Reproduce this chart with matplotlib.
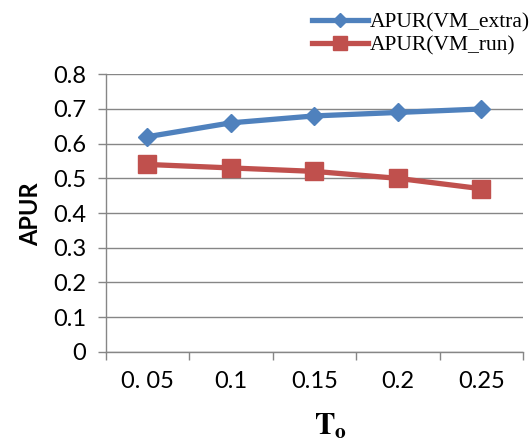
import matplotlib
matplotlib.use('agg')
import matplotlib.pyplot as plt
import numpy as np

# data
categories = ['0. 05', '0.1', '0.15', '0.2', '0.25']
vm_extra = [0.62, 0.66, 0.68, 0.69, 0.70]
vm_run = [0.54, 0.53, 0.52, 0.50, 0.47]

blue = '#4F81BD'
red = '#C0504D'
gray = '#868686'

plt.rcParams['mathtext.fontset'] = 'stix'

fig = plt.figure(figsize=(5.31, 4.46), dpi=100)
ax = fig.add_axes([0.199, 0.2114, 0.786, 0.622])

x = np.arange(len(categories))
l1, = ax.plot(x, vm_extra, color=blue, lw=3.8, marker='D', ms=9, label='APUR(VM_extra)')
l2, = ax.plot(x, vm_run, color=red, lw=3.8, marker='s', ms=13, label='APUR(VM_run)')

ax.set_xlim(-0.5, len(categories) - 0.5)
ax.set_ylim(0, 0.8)
ax.set_yticks(np.arange(0, 0.81, 0.1))
ax.set_yticklabels(['0', '0.1', '0.2', '0.3', '0.4', '0.5', '0.6', '0.7', '0.8'])

# category boundaries get the tick marks, centres get the labels
ax.set_xticks(np.arange(-0.5, len(categories), 1.0))
ax.set_xticklabels([])
ax.set_xticks(x, minor=True)
ax.set_xticklabels(categories, minor=True)
ax.tick_params(axis='x', which='major', length=6, width=1, color=gray)
ax.tick_params(axis='x', which='minor', length=0, pad=14)
ax.tick_params(axis='y', length=6, width=1, color=gray, pad=8)
for lab in ax.get_xticklabels(minor=True) + ax.get_yticklabels():
    lab.set_fontfamily('Lato')
    lab.set_fontsize(17)

ax.yaxis.grid(True, color=gray, lw=1)
ax.set_axisbelow(True)
for s in ['top', 'right']:
    ax.spines[s].set_visible(False)
for s in ['left', 'bottom']:
    ax.spines[s].set_color(gray)
    ax.spines[s].set_linewidth(1)

fig.text(0.058, 0.52, 'APUR', rotation=90, ha='center', va='center',
         fontsize=17, fontweight='bold', family='Lato')
fig.text(0.622, 0.045, r'$\mathbf{T_o}$', ha='center', va='center', fontsize=22)

fig.legend(handles=[l1, l2], loc='upper right', bbox_to_anchor=(1.035, 1.016),
           frameon=False, prop={'family': 'Liberation Serif', 'size': 15.5},
           handlelength=2.6, handletextpad=0.1, labelspacing=0.15,
           markerscale=0.75)

fig.savefig('out.png', dpi=100)
